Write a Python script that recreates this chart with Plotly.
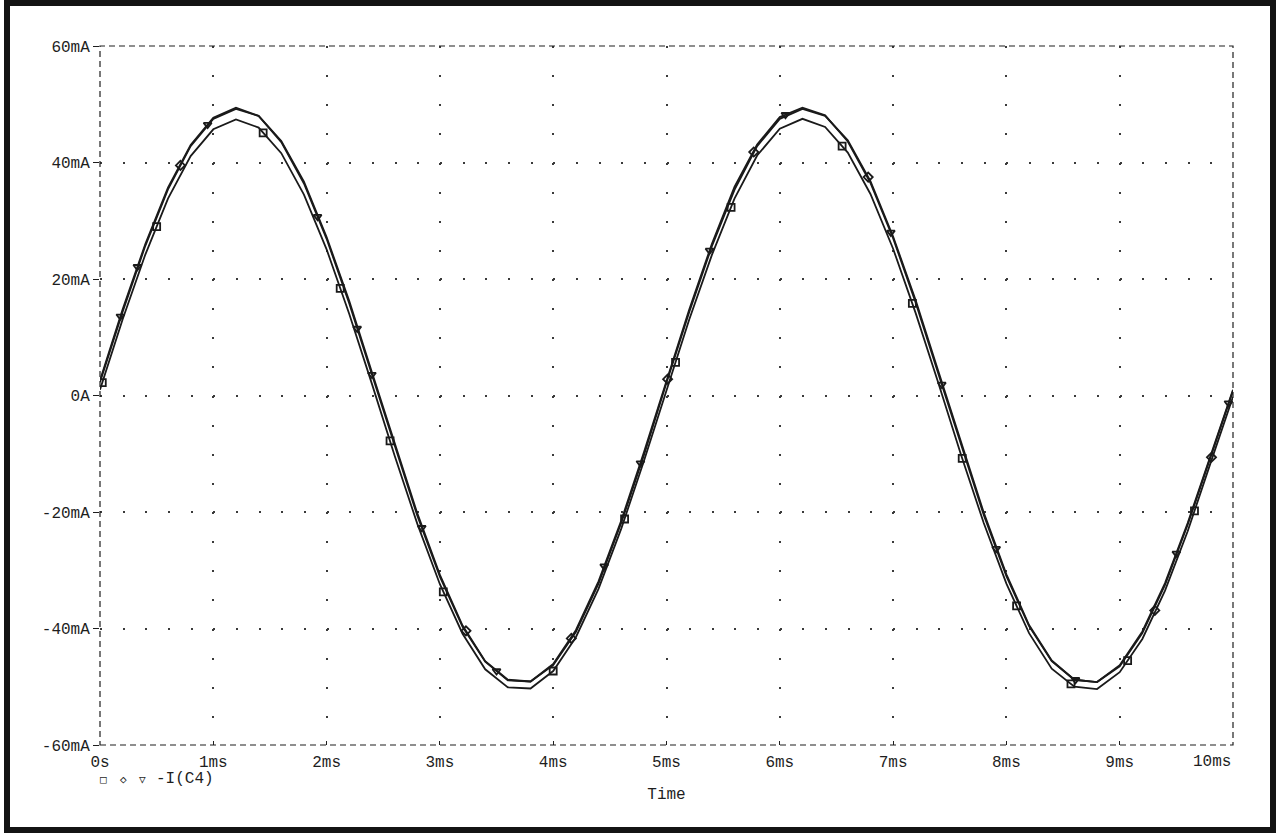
import plotly.graph_objects as go

# ---------------- data ----------------
TIME_MS = [0.0, 0.2, 0.4, 0.6, 0.8, 1.0, 1.2, 1.4, 1.6, 1.8,
           2.0, 2.2, 2.4, 2.6, 2.8, 3.0, 3.2, 3.4, 3.6, 3.8,
           4.0, 4.2, 4.4, 4.6, 4.8, 5.0, 5.2, 5.4, 5.6, 5.8,
           6.0, 6.2, 6.4, 6.6, 6.8, 7.0, 7.2, 7.4, 7.6, 7.8,
           8.0, 8.2, 8.4, 8.6, 8.8, 9.0, 9.2, 9.4, 9.6, 9.8, 10.0]

# trace drawn with triangle markers (mA)
I_TRI = [2.6, 14.8, 26.0, 35.7, 43.0, 47.7, 49.4, 48.0, 43.5, 36.4,
         26.9, 15.8, 3.6, -8.7, -20.6, -31.1, -39.7, -45.7, -48.9, -49.1,
         -46.1, -40.3, -31.9, -21.5, -9.8, 2.5, 14.7, 26.0, 35.8, 43.1,
         47.8, 49.4, 48.1, 43.6, 36.5, 27.0, 15.9, 3.7, -8.6, -20.5,
         -31.0, -39.6, -45.6, -48.8, -49.2, -46.3, -40.5, -32.2, -21.9, -10.3, 1.0]

# trace drawn with diamond markers (mA)
I_DIA = [2.3, 14.4, 25.7, 35.4, 42.8, 47.5, 49.2, 48.0, 43.7, 36.7,
         27.2, 16.2, 4.0, -8.3, -20.2, -30.8, -39.5, -45.6, -48.8, -49.1,
         -46.3, -40.6, -32.3, -21.9, -10.3, 2.2, 14.3, 25.6, 35.3, 42.8,
         47.5, 49.2, 48.0, 43.8, 36.8, 27.3, 16.3, 4.1, -8.2, -20.1,
         -30.7, -39.4, -45.5, -48.8, -49.2, -46.5, -40.8, -32.5, -22.2, -10.6, 0.8]

# trace drawn with square markers (mA)
I_SQ = [1.0, 13.1, 24.2, 33.8, 41.1, 45.7, 47.4, 46.0, 41.6, 34.5,
        25.1, 14.0, 2.0, -10.3, -22.0, -32.4, -40.9, -47.0, -50.1, -50.3,
        -47.3, -41.5, -33.2, -22.9, -11.3, 0.9, 13.0, 24.1, 33.8, 41.2,
        45.8, 47.5, 46.1, 41.7, 34.6, 25.2, 14.1, 2.1, -10.2, -21.9,
        -32.3, -40.8, -46.9, -50.0, -50.4, -47.5, -41.8, -33.5, -23.3, -11.7, -0.2]

# marker positions (time ms, current mA)
SQ_MARK_T = [0.02, 0.50, 1.44, 2.12, 2.56, 3.03, 4.00, 4.63, 5.08, 5.57,
             6.55, 7.17, 7.61, 8.09, 8.57, 9.07, 9.66]
SQ_MARK_V = [2.2, 29.0, 45.1, 18.4, -7.8, -33.7, -47.3, -21.2, 5.7, 32.3,
             42.8, 15.8, -10.8, -36.1, -49.5, -45.5, -19.8]

DIA_MARK_T = [0.71, 3.23, 4.16, 5.01, 5.77, 6.78, 9.31, 9.81]
DIA_MARK_V = [39.5, -40.4, -41.7, 2.8, 41.8, 37.5, -36.9, -10.6]

TRI_MARK_T = [0.18, 0.33, 0.95, 1.92, 2.27, 2.40, 2.84, 3.50, 4.45, 4.77,
              5.38, 6.05, 6.98, 7.43, 7.91, 8.61, 9.50, 9.96]
TRI_MARK_V = [13.6, 22.1, 46.5, 30.7, 11.5, 3.6, -22.7, -47.3, -29.3, -11.6,
              24.9, 48.2, 28.0, 1.9, -26.3, -48.8, -27.1, -1.3]

Y_TICKS = [-60, -40, -20, 0, 20, 40, 60]
Y_TICK_TEXT = ["-60mA", "-40mA", "-20mA", "0A", "20mA", "40mA", "60mA"]
X_TICKS = [0, 1, 2, 3, 4, 5, 6, 7, 8, 9, 10]
X_TICK_TEXT = ["0s", "1ms", "2ms", "3ms", "4ms", "5ms", "6ms", "7ms", "8ms", "9ms", ""]
LAST_X_LABEL = "10ms"
SERIES_NAME = "-I(C4)"

# ---------------- styling ----------------
W, H = 1276, 836
ML, MR, MT, MB = 100, 43, 46, 91
PW, PH = W - ML - MR, H - MT - MB
FONT = "Liberation Mono, Courier New, DejaVu Sans Mono, monospace"
INK = "#1e1e1e"
LINE = "#1a1a1a"


def px_x(px):
    return (px - ML) / PW


def px_y(py):
    return (H - MB - py) / PH


fig = go.Figure()

for vals, name in [(I_SQ, "sq"), (I_DIA, "dia"), (I_TRI, "tri")]:
    fig.add_trace(go.Scatter(x=TIME_MS, y=vals, mode="lines",
                             line=dict(color=LINE, width=1.8),
                             showlegend=False, hoverinfo="skip", name=name))

for tx, ty, sym, sz in [(SQ_MARK_T, SQ_MARK_V, "square-open", 7),
                        (DIA_MARK_T, DIA_MARK_V, "diamond-open", 7),
                        (TRI_MARK_T, TRI_MARK_V, "triangle-down-open", 7)]:
    fig.add_trace(go.Scatter(x=tx, y=ty, mode="markers",
                             marker=dict(symbol=sym, size=sz, color=LINE,
                                         line=dict(color=LINE, width=1.8)),
                             showlegend=False, hoverinfo="skip"))

x_period = PW / 50.0   # dot every 0.2 ms
y_period = PH / 24.0   # dot every 5 mA

fig.update_xaxes(range=[0, 10], tickvals=X_TICKS, ticktext=X_TICK_TEXT,
                 ticks="inside", ticklen=4, tickwidth=1, tickcolor=INK,
                 ticklabelstandoff=5,
                 showline=False, zeroline=False, showgrid=True,
                 gridcolor="#3a3a3a", gridwidth=2,
                 griddash="2px,%.3fpx" % (y_period - 2),
                 tickfont=dict(family=FONT, size=16, color=INK),
                 title=dict(text="Time", font=dict(family=FONT, size=16, color=INK),
                            standoff=16))
fig.update_yaxes(range=[-60, 60], tickvals=Y_TICKS, ticktext=Y_TICK_TEXT,
                 ticks="outside", ticklen=6, tickwidth=1, tickcolor=INK,
                 showline=False, zeroline=False, showgrid=True,
                 gridcolor="#3a3a3a", gridwidth=2,
                 griddash="2px,%.3fpx" % (x_period - 2),
                 tickfont=dict(family=FONT, size=16, color=INK))

shapes = [
    dict(type="rect", xref="paper", yref="paper", x0=0, x1=1, y0=0, y1=1,
         line=dict(color=INK, width=1.2, dash="6px,4px"), layer="above"),
    dict(type="rect", xref="paper", yref="paper",
         x0=px_x(7), x1=px_x(1273), y0=px_y(830), y1=px_y(3),
         line=dict(color="#141414", width=6), layer="above"),
]

annotations = [
    dict(xref="x", yref="paper", x=10, y=px_y(762), text=LAST_X_LABEL,
         xanchor="right", yanchor="middle", showarrow=False,
         font=dict(family=FONT, size=16, color=INK)),
    dict(xref="paper", yref="paper", x=px_x(103), y=px_y(779), text="□",
         xanchor="center", yanchor="middle", showarrow=False,
         font=dict(family="DejaVu Sans Mono", size=11, color=INK)),
    dict(xref="paper", yref="paper", x=px_x(123), y=px_y(779), text="◇",
         xanchor="center", yanchor="middle", showarrow=False,
         font=dict(family="DejaVu Sans Mono", size=11, color=INK)),
    dict(xref="paper", yref="paper", x=px_x(142), y=px_y(779), text="▽",
         xanchor="center", yanchor="middle", showarrow=False,
         font=dict(family="DejaVu Sans Mono", size=11, color=INK)),
    dict(xref="paper", yref="paper", x=px_x(154), y=px_y(779), text=SERIES_NAME,
         xanchor="left", yanchor="middle", showarrow=False,
         font=dict(family=FONT, size=16, color=INK)),
]

fig.update_layout(width=W, height=H, autosize=False,
                  margin=dict(l=ML, r=MR, t=MT, b=MB, pad=0),
                  paper_bgcolor="#ffffff", plot_bgcolor="#ffffff",
                  shapes=shapes, annotations=annotations, showlegend=False)

fig.write_html("out.html")
